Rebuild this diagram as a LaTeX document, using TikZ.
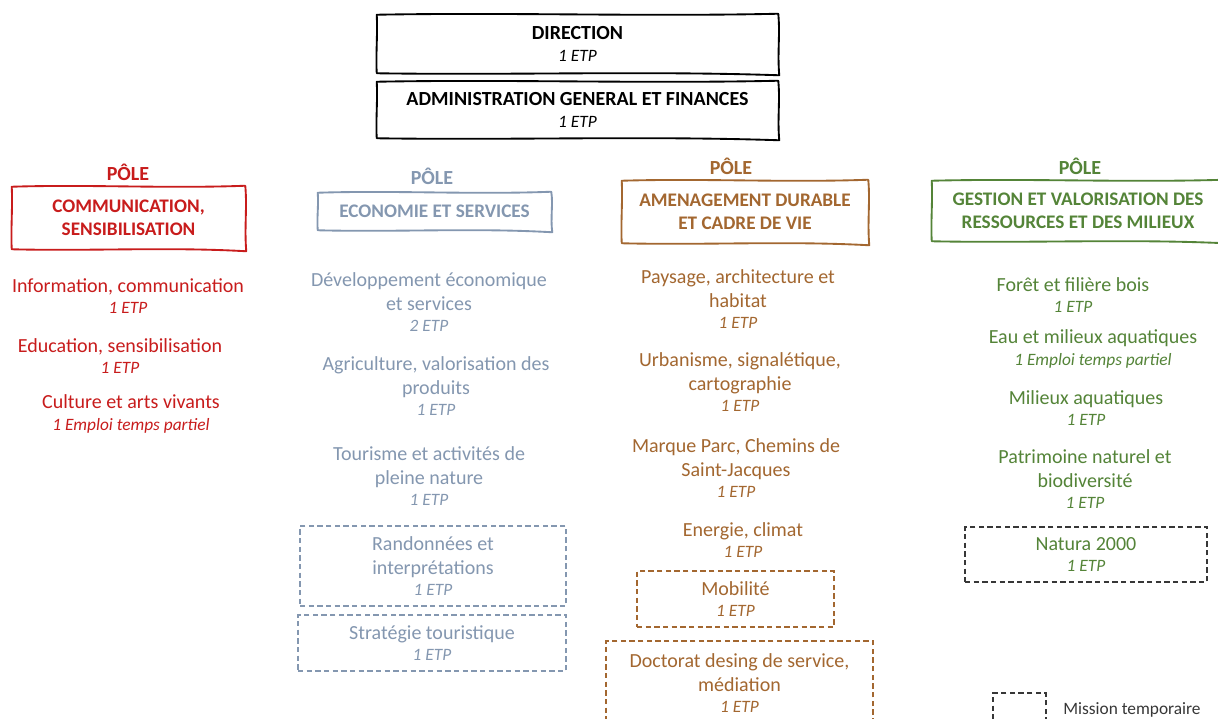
\documentclass[tikz,border=0pt]{standalone}
\usepackage{fontspec}
\setmainfont{Carlito}
\usetikzlibrary{calc}
\definecolor{cred}{RGB}{200,28,28}
\definecolor{cblue}{RGB}{132,151,176}
\definecolor{cbrown}{RGB}{163,103,48}
\definecolor{cgreen}{RGB}{84,132,56}
\definecolor{cgrey}{RGB}{55,55,55}
\newcommand\mainf{\fontsize{15}{18}\selectfont}
\newcommand\etpf{\fontsize{13}{16}\selectfont\itshape}
\newcommand\headf{\fontsize{14.4}{17.5}\selectfont\bfseries}
\newcommand\topf{\fontsize{15}{17.5}\selectfont\bfseries}
\newcommand\etp[1]{\\[-2pt]{\etpf #1}}
\tikzset{
  item/.style={align=center, font=\mainf, inner sep=0pt},
  polelbl/.style={font=\topf, inner sep=0pt},
  hbox/.style={align=center, font=\headf, inner sep=0pt},
  tbox/.style={align=center, font=\topf, inner sep=0pt},
  mission/.style={align=center, font=\mainf, inner sep=0pt, draw, dash pattern=on 4pt off 2.5pt, line width=0.9pt},
  wavy/.style={line width=1.4pt, line join=round},
}
\newcommand\wavyframe[2]{%
  \draw[wavy,#1] (#2.north west)
   .. controls ($(#2.north west)!.33!(#2.north east)+(0,-2.5)$) and ($(#2.north west)!.66!(#2.north east)+(0,2)$) .. ($(#2.north east)+(0,-1)$)
   .. controls ($(#2.north east)!.33!(#2.south east)+(2,0)$) and ($(#2.north east)!.66!(#2.south east)+(-1,0)$) .. ($(#2.south east)+(1,2)$)
   .. controls ($(#2.south east)!.33!(#2.south west)+(0,-2.5)$) and ($(#2.south east)!.66!(#2.south west)+(0,2)$) .. (#2.south west)
   .. controls ($(#2.south west)!.33!(#2.north west)+(-1,0)$) and ($(#2.south west)!.66!(#2.north west)+(1,0)$) .. (#2.north west) -- cycle;}
\begin{document}
\begin{tikzpicture}[x=0.75pt,y=-0.75pt]
\useasboundingbox (0,0) rectangle (1218,718);
\clip (0,0) rectangle (1218,718);
\fill[white] (0,0) rectangle (1218,718);

% top boxes
\node[tbox, minimum width=401*0.75pt, minimum height=58*0.75pt] (dir) at (577.5,44) {DIRECTION\\[-1pt]{\etpf\mdseries 1 ETP}};
\wavyframe{black}{dir}
\node[tbox, minimum width=401*0.75pt, minimum height=56*0.75pt] (adm) at (577.5,110) {ADMINISTRATION GENERAL ET FINANCES\\[-1pt]{\etpf\mdseries 1 ETP}};
\wavyframe{black}{adm}

% red pole
\node[polelbl, text=cred] (p1) at (128,172) {PÔLE};
\node[hbox, text=cred, minimum width=233*0.75pt, minimum height=62*0.75pt] (h1) at (128.5,218) {COMMUNICATION,\\SENSIBILISATION};
\wavyframe{cred}{h1}
\node[item, text=cred] (r1) at (128,296) {Information, communication\etp{1 ETP}};
\node[item, text=cred] (r2) at (120,356) {Education, sensibilisation\etp{1 ETP}};
\node[item, text=cred] (r3) at (131,414) {Culture et arts vivants\etp{1 Emploi temps partiel}};

% blue pole
\node[polelbl, text=cblue] (p2) at (432,176) {PÔLE};
\node[hbox, text=cblue, minimum width=233*0.75pt, minimum height=37*0.75pt] (h2) at (434.5,211.5) {ECONOMIE ET SERVICES};
\wavyframe{cblue}{h2}
\node[item, text=cblue] (b1) at (429,302) {Développement économique\\et services\etp{2 ETP}};
\node[item, text=cblue] (b2) at (436,386) {Agriculture, valorisation des\\produits\etp{1 ETP}};
\node[item, text=cblue] (b3) at (429,476) {Tourisme et activités de\\pleine nature\etp{1 ETP}};
\node[mission, text=cblue, draw=cblue, minimum width=266*0.75pt, minimum height=80*0.75pt] (b4) at (433,566) {Randonnées et\\interprétations\etp{1 ETP}};
\node[mission, text=cblue, draw=cblue, minimum width=268*0.75pt, minimum height=56*0.75pt] (b5) at (432,643) {Stratégie touristique\etp{1 ETP}};

% brown pole
\node[polelbl, text=cbrown] (p3) at (731,166) {PÔLE};
\node[hbox, text=cbrown, minimum width=246*0.75pt, minimum height=62*0.75pt] (h3) at (745,212) {AMENAGEMENT DURABLE\\ET CADRE DE VIE};
\wavyframe{cbrown}{h3}
\node[item, text=cbrown] (o1) at (738,299) {Paysage, architecture et\\habitat\etp{1 ETP}};
\node[item, text=cbrown] (o2) at (740,382) {Urbanisme, signalétique,\\cartographie\etp{1 ETP}};
\node[item, text=cbrown] (o3) at (736,468) {Marque Parc, Chemins de\\Saint-Jacques\etp{1 ETP}};
\node[item, text=cbrown] (o4) at (743,540) {Energie, climat\etp{1 ETP}};
\node[mission, text=cbrown, draw=cbrown, minimum width=197*0.75pt, minimum height=56*0.75pt] (o5) at (735.5,599) {Mobilité\etp{1 ETP}};
\node[mission, text=cbrown, draw=cbrown, minimum width=267*0.75pt, minimum height=84*0.75pt] (o6) at (739.5,683) {Doctorat desing de service,\\médiation\etp{1 ETP}};

% green pole
\node[polelbl, text=cgreen] (p4) at (1080,166) {PÔLE};
\node[hbox, text=cgreen, minimum width=292*0.75pt, minimum height=60*0.75pt] (h4) at (1078,211) {GESTION ET VALORISATION DES\\RESSOURCES ET DES MILIEUX};
\wavyframe{cgreen}{h4}
\node[item, text=cgreen] (g1) at (1073,295) {Forêt et filière bois\etp{1 ETP}};
\node[item, text=cgreen] (g2) at (1093,349) {Eau et milieux aquatiques\etp{1 Emploi temps partiel}};
\node[item, text=cgreen] (g3) at (1086,408) {Milieux aquatiques\etp{1 ETP}};
\node[item, text=cgreen] (g4) at (1085,479) {Patrimoine naturel et\\biodiversité\etp{1 ETP}};
\node[mission, text=cgreen, draw=cgrey, minimum width=242*0.75pt, minimum height=55*0.75pt] (g5) at (1086,554.5) {Natura 2000\etp{1 ETP}};

% legend
\node[mission, draw=cgrey, minimum width=53*0.75pt, minimum height=46*0.75pt] (leg) at (1019.5,716) {};
\node[item, text=cgrey, font=\fontsize{13}{15}\selectfont] (legt) at (1132,710) {Mission temporaire};
\end{tikzpicture}
\end{document}
